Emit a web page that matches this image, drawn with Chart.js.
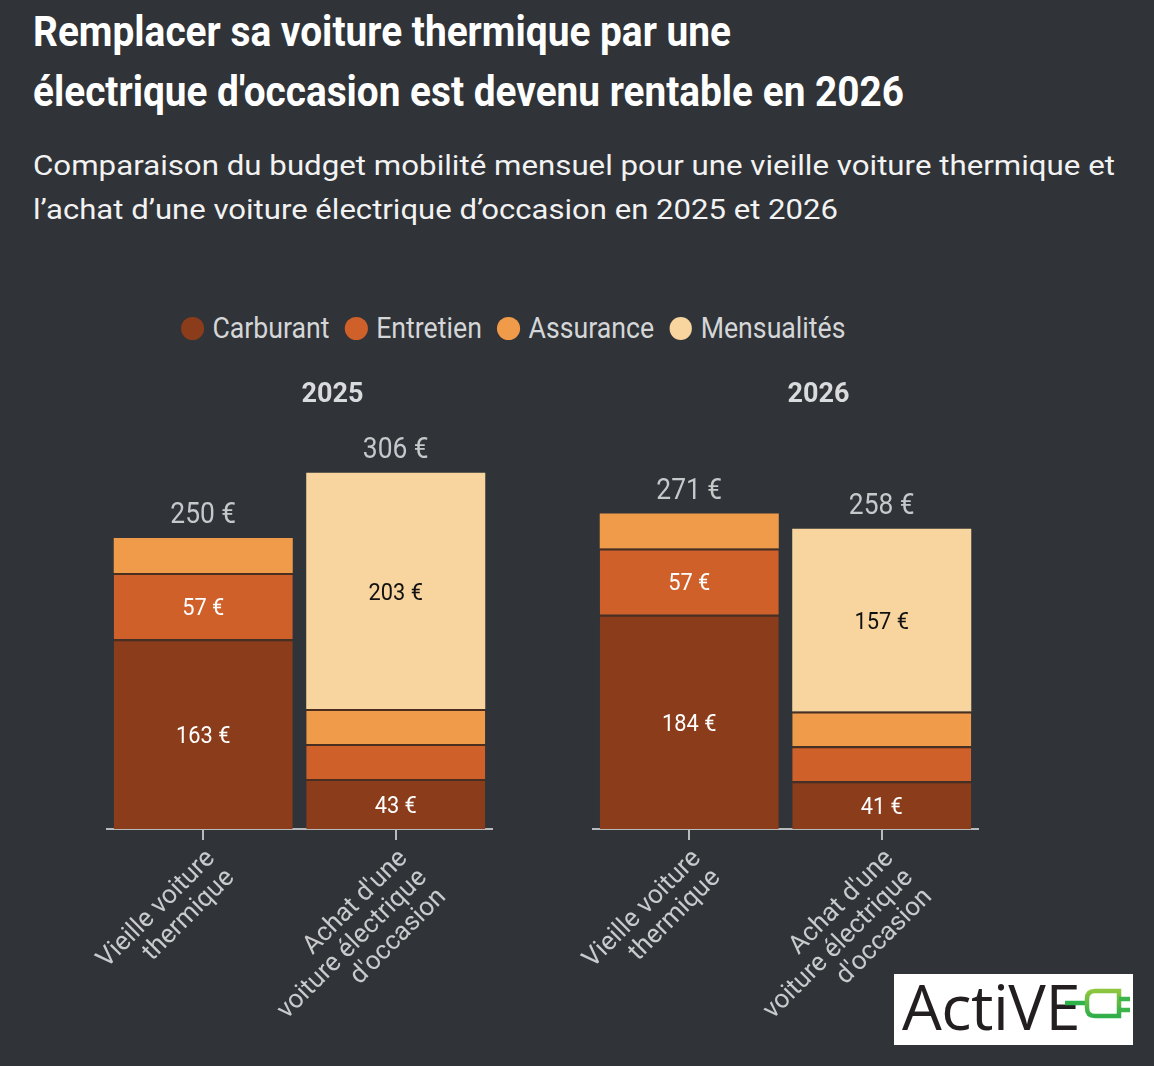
<!DOCTYPE html>
<html><head><meta charset="utf-8">
<script src="https://cdn.jsdelivr.net/npm/chart.js@4.4.1/dist/chart.umd.min.js"></script>
<style>
html,body{margin:0;padding:0;background:#303337;width:1154px;height:1066px;overflow:hidden;font-family:Roboto,sans-serif;}
.line{position:absolute;left:33px;white-space:nowrap;transform-origin:0 50%;line-height:1;}
.t{color:#ffffff;font-weight:700;font-size:42px;}
.s{color:#f2f2f2;font-weight:400;font-size:28px;}
#legend{position:absolute;left:181px;top:310px;height:36px;display:flex;align-items:center;white-space:nowrap;transform:scaleX(0.89);transform-origin:0 50%;color:#d4d6d8;font-size:30px;line-height:1;}
#legend .dot{display:inline-block;width:25.8px;height:23px;border-radius:50%;margin-right:9.5px;}
#legend .item{display:flex;align-items:center;margin-right:17px;}
.chartbox{position:absolute;top:360px;height:669px;}
#logo{position:absolute;left:894px;top:974px;width:239px;height:71px;background:#ffffff;overflow:hidden;}
#logo span{position:absolute;left:8px;top:0;font-family:"Open Sans",sans-serif;font-size:63px;line-height:1;color:#231f20;letter-spacing:-0.5px;}
#logo svg{position:absolute;left:0;top:0;}
</style>
</head><body>
<div id="t1" class="line t" style="top:10.7px">Remplacer sa voiture thermique par une</div>
<div id="t2" class="line t" style="top:70.7px">électrique d'occasion est devenu rentable en 2026</div>
<div id="s1" class="line s" style="top:152.4px">Comparaison du budget mobilité mensuel pour une vieille voiture thermique et</div>
<div id="s2" class="line s" style="top:196.4px">l’achat d’une voiture électrique d’occasion en 2025 et 2026</div>
<div id="legend"></div>
<div class="chartbox" style="left:0px;width:558px;"><canvas id="c2025"></canvas></div>
<div class="chartbox" style="left:443px;width:601px;"><canvas id="c2026"></canvas></div>
<div id="logo"><span>ActiVE</span>
<svg width="239" height="71" viewBox="0 0 239 71">
<defs><linearGradient id="g" x1="0" y1="0" x2="0" y2="1"><stop offset="0" stop-color="#8dc63f"/><stop offset="1" stop-color="#2fae4a"/></linearGradient></defs>
<line x1="171" y1="29" x2="194" y2="29" stroke="#2db34a" stroke-width="4.5"/>
<path d="M225 17 H201 Q193 17 193 25 V34 Q193 42 201 42 H225 Z" fill="none" stroke="url(#g)" stroke-width="4.5"/>
<line x1="225" y1="25" x2="236" y2="25" stroke="#3bb54a" stroke-width="4.5"/>
<line x1="225" y1="36" x2="236" y2="36" stroke="#3bb54a" stroke-width="4.5"/>
</svg></div>
<script>
// ---- data ----
const categories = [["Vieille voiture","thermique"],["Achat d'une","voiture électrique","d'occasion"]];
const years = ["2025","2026"];
const seriesNames = ["Carburant","Entretien","Assurance","Mensualités"];
const seriesColors = ["#8b3c1b","#d0602a","#f09b4a","#f8d59e"];
const labelColors = ["#ffffff","#ffffff","#ffffff","#111111"];
const carburant2025 = [163, 43];
const entretien2025 = [57, 30];
const assurance2025 = [30, 30];
const mensualites2025 = [0, 203];
const carburant2026 = [184, 41];
const entretien2026 = [57, 30];
const assurance2026 = [30, 30];
const mensualites2026 = [0, 157];
const yMax = 350;
const labelThreshold = 35;

// ---- text fitting (layout only) ----
function fit(id, target){
  const el = document.getElementById(id);
  el.style.transform = 'none';
  const w = el.getBoundingClientRect().width;
  el.style.transform = 'scaleX(' + (target / w) + ')';
}
function fitAll(){ fit('t1',698); fit('t2',871); fit('s1',1082); fit('s2',805); }
fitAll();
if (document.fonts && document.fonts.ready) document.fonts.ready.then(fitAll);

// ---- legend ----
const legend = document.getElementById('legend');
seriesNames.forEach((n, i) => {
  const it = document.createElement('span'); it.className = 'item';
  const d = document.createElement('span'); d.className = 'dot'; d.style.background = seriesColors[i];
  const t = document.createElement('span'); t.textContent = n;
  it.appendChild(d); it.appendChild(t); legend.appendChild(it);
});

// ---- chart ----
function drawText(ctx, text, x, y, font, color, sx){
  ctx.save();
  ctx.font = font; ctx.fillStyle = color; ctx.textAlign = 'center'; ctx.textBaseline = 'middle';
  ctx.translate(x, y); ctx.scale(sx, 1); ctx.fillText(text, 0, 0);
  ctx.restore();
}
const valueLabels = {
  id: 'valueLabels',
  afterDatasetsDraw(chart){
    const ctx = chart.ctx;
    chart.data.datasets.forEach((ds, di) => {
      const meta = chart.getDatasetMeta(di);
      meta.data.forEach((bar, i) => {
        const v = ds.data[i];
        if (v < labelThreshold) return;
        const p = bar.getProps(['x','y','base'], true);
        drawText(ctx, v + ' €', p.x, (p.y + p.base) / 2 + 2.5, '400 24.5px Roboto', ds.labelColor, 0.89);
      });
    });
    chart.data.labels.forEach((l, i) => {
      const total = chart.data.datasets.reduce((s, ds) => s + ds.data[i], 0);
      const x = chart.getDatasetMeta(0).data[i].x;
      const y = chart.scales.y.getPixelForValue(total);
      drawText(ctx, total + ' €', x, y - 22.5, '400 30px Roboto', '#c6c8ca', 0.88);
    });
  }
};

function makeChart(id, year, series, padLeft){
  const datasets = series.map((data, k) => ({
    label: seriesNames[k],
    data: data,
    backgroundColor: seriesColors[k],
    labelColor: labelColors[k],
    borderColor: '#4a2e1f',
    borderSkipped: 'start',
    borderWidth: (c) => {
      const i = c.dataIndex;
      const ds = c.chart.data.datasets;
      let top = true;
      for (let j = c.datasetIndex + 1; j < ds.length; j++) if (ds[j].data[i] > 0) top = false;
      return {top: top ? 0 : 2, left: 0, right: 0, bottom: 0};
    },
    barPercentage: 0.93,
    categoryPercentage: 1.0
  }));
  return new Chart(document.getElementById(id), {
    type: 'bar',
    data: { labels: categories, datasets: datasets },
    plugins: [valueLabels],
    options: {
      responsive: true, maintainAspectRatio: false, animation: false,
      layout: { padding: { left: padLeft, right: 0, top: 0, bottom: 0 } },
      plugins: {
        legend: { display: false },
        tooltip: { enabled: false },
        title: { display: true, text: year, color: '#d9dbdd',
          font: { family: 'Roboto', size: 27, weight: 'bold', lineHeight: 1.2 },
          padding: { top: 18.8, bottom: 10.4 } }
      },
      scales: {
        x: {
          stacked: true,
          grid: { display: true, drawOnChartArea: false, drawTicks: true, tickLength: 11, offset: false, color: '#b8babc', lineWidth: 2 },
          border: { display: true, color: '#b8babc', width: 2 },
          ticks: { color: '#c8cacc', font: { family: 'Roboto', size: 26, lineHeight: 1.05 },
            minRotation: 45, maxRotation: 45, autoSkip: false, labelOffset: 8, padding: 5 },
          afterFit(s){ s.height = 200; }
        },
        y: {
          stacked: true, min: 0, max: yMax, position: 'right', display: true,
          grid: { display: false }, border: { display: false }, ticks: { display: false },
          afterFit(s){ s.width = 66; }
        }
      }
    }
  });
}
makeChart('c2025', years[0], [carburant2025, entretien2025, assurance2025, mensualites2025], 107);
makeChart('c2026', years[1], [carburant2026, entretien2026, assurance2026, mensualites2026], 150);
</script>
</body></html>
